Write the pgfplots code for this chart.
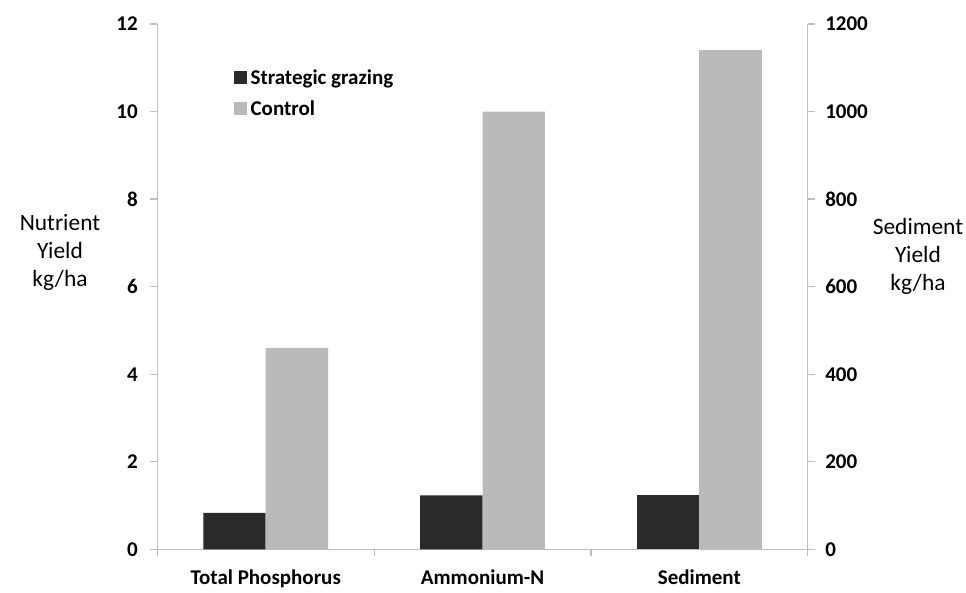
\documentclass[border=0pt]{standalone}
\usepackage{pgfplots}
\pgfplotsset{compat=1.18}
\usepackage{fontspec}
\setmainfont{Carlito}
\definecolor{darkbar}{RGB}{42,42,42}
\definecolor{lightbar}{RGB}{186,186,186}
\definecolor{axisgray}{RGB}{190,190,190}
\begin{document}
\begin{tikzpicture}[x=1pt,y=1pt]
\useasboundingbox (-157.3,-42.7) rectangle (808.7,549.3);
\pgfplotsset{common/.style={
  at={(0,0)}, anchor=south west,
  width=650.4pt, height=525.3pt, scale only axis,
  xmin=-0.5, xmax=2.5, ymin=0,
  ybar, bar width=0.288,
  /pgf/number format/assume math mode=true,
  /pgf/number format/set thousands separator={},
  tick label style={font=\fontsize{21}{25}\selectfont\bfseries},
  axis line style={axisgray, line width=1.2pt},
  tick style={axisgray, line width=1.2pt},
  major tick length=7pt, minor tick length=7pt,
  tick align=outside,
}}
\begin{axis}[common,
  axis x line*=bottom, axis y line*=left,
  ymax=12, ytick={0,2,...,12},
  xtick={0,1,2}, xticklabels={Total Phosphorus,Ammonium-N,Sediment},
  major x tick style={draw=none},
  minor xtick={-0.5,0.5,1.5,2.5},
  x tick label style={yshift=-10pt},
  y tick label style={xshift=-9pt},
  legend style={at={(0.117,0.918)}, anchor=north west, draw=none, fill=none,
    font=\fontsize{21}{25}\selectfont\bfseries, row sep=11pt, inner sep=0pt,
    nodes={inner xsep=4pt}},
  legend cell align=left,
  legend image code/.code={\draw[#1,draw=none] (0pt,-6.2pt) rectangle (13pt,6.2pt);},
]
\addplot[fill=darkbar, draw=none, bar shift=-0.144] coordinates {(0,0.83) (1,1.23)};
\addlegendentry{Strategic grazing}
\addplot[fill=lightbar, draw=none, bar shift=0.144] coordinates {(0,4.6) (1,10.0)};
\addlegendentry{Control}
\end{axis}
\begin{axis}[common,
  axis x line=none, axis y line*=right,
  ymax=1200, ytick={0,200,...,1200},
  xtick=\empty,
  y tick label style={xshift=7pt},
]
\addplot[fill=darkbar, draw=none, bar shift=-0.144] coordinates {(2,125)};
\addplot[fill=lightbar, draw=none, bar shift=0.144] coordinates {(2,1140)};
\end{axis}
\node[align=center, font=\fontsize{23.4}{27.8}\selectfont] at (-97.3,297) {Nutrient\\Yield\\kg/ha};
\node[align=center, font=\fontsize{23.4}{27.8}\selectfont] at (760.7,293) {Sediment\\Yield\\kg/ha};
\end{tikzpicture}
\end{document}
